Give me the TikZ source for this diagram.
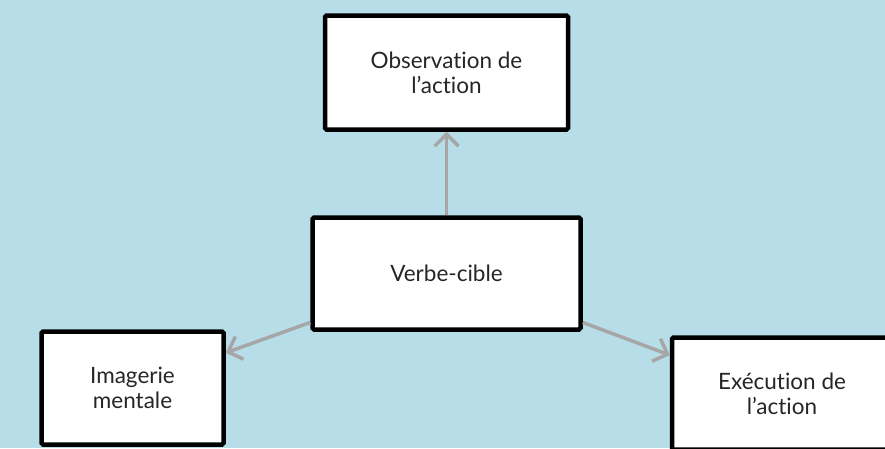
\documentclass[tikz,border=0pt]{standalone}
\usepackage{fontspec}
\setmainfont{Lato}[Ligatures={NoCommon}]
\usetikzlibrary{positioning}
\usetikzlibrary{arrows.meta}
\usetikzlibrary{calc}
\definecolor{fond}{RGB}{183,221,232}
\definecolor{fleche}{RGB}{166,166,166}

\begin{document}
\begin{tikzpicture}[x=1pt,y=-1pt,
                boite/.style={draw=black,fill=white,line width=4.5pt,rounded corners=1.5pt,
                  align=center,font=\fontsize{22.5}{25}\selectfont,text=black!85,inner sep=0pt},
                lien/.style={draw=fleche,line width=3.5pt,
                  -{Straight Barb[length=12pt,width=24pt,line width=3.5pt]}}]
             \useasboundingbox (0,0) rectangle (885,448);
             \fill[fond] (0,0) rectangle (885,448);
             \clip (0,0) rectangle (885,448);
             % les quatre boites
             \node[boite,minimum width=243pt,minimum height=114pt] (obs) at (446.5,72.5)
                {Observation de\\l'action};
             \node[boite,minimum width=268pt,minimum height=112pt] (verbe) at (446.5,273.5)
                {Verbe-cible};
             \node[boite,minimum width=182pt,minimum height=113pt] (imag) at (132.5,388)
                {Imagerie\\mentale};
             \node[boite,minimum width=220pt,minimum height=112pt] (exec) at (782,393.5)
                {Exécution de\\l'action};
             % fleches
             \draw[lien] (verbe.north) -- (obs.south);
             \draw[lien] ($(verbe.south west)!0.08!(verbe.north west)$)
                -- ($(imag.north east)!0.2!(imag.south east)$);
             \draw[lien] ($(verbe.south east)!0.08!(verbe.north east)$)
                -- ($(exec.north west)!0.17!(exec.south west)$);
             \end{tikzpicture}
\end{document}
